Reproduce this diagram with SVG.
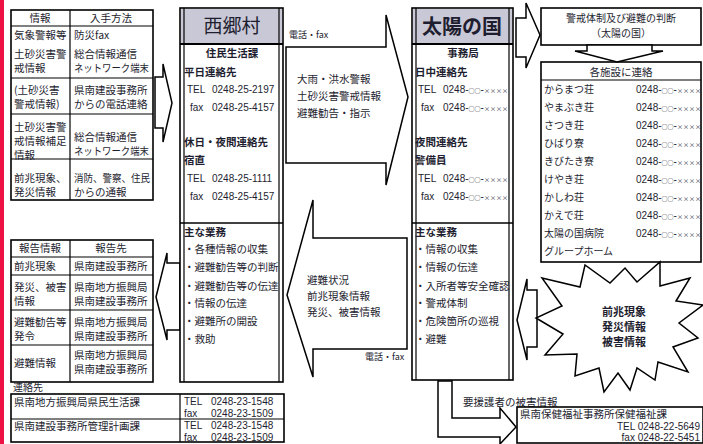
<svg xmlns="http://www.w3.org/2000/svg" width="703" height="444" viewBox="0 0 703 444">
<style>
.jp{font-family:"Noto Sans CJK JP","Noto Sans CJK SC",sans-serif;font-size:10.5px;fill:#1e1e30}
.num{font-family:"Liberation Sans",Arial,sans-serif;font-size:10px;fill:#1e1e30}
.sm{font-family:"Noto Sans CJK JP",sans-serif;font-size:6px}
.b{font-weight:700}
.m{text-anchor:middle}
.e{text-anchor:end}
.box{fill:#fff;stroke:#000;stroke-width:1.6}
.ln{stroke:#000;stroke-width:1.2;fill:none}
.arrow{fill:#fff;stroke:#000;stroke-width:1.5;stroke-linejoin:miter}
.hdr{fill:#c9c8d6}
</style>
<rect x="0" y="0" width="703" height="444" fill="#fff"/>
<rect x="0" y="0" width="4" height="444" fill="#ee1144"/>

<g id="connectors">
  <polygon class="arrow" points="155,77 163,77 163,64 172,103 163,142 163,128 155,128"/>
  <polygon class="arrow" points="180,263 167,263 167,253 156,297 167,340 167,330 180,330"/>
  <polygon class="arrow" points="286,47 386,47 386,15 408,97 386,185 386,163 286,163"/>
  <polygon class="arrow" points="407,238 313,238 313,200 287,295 313,377 313,349 407,349"/>
  <polygon class="arrow" points="516,18 526,18 526,3 540,35 526,68 526,57 516,57"/>
  <polygon class="arrow" points="537,290 527,290 527,279 517,320 527,360 527,347 537,347"/>
  <polygon class="arrow" points="438,381 438,437 500,437 500,444 516,427 500,408 500,418 452,418 452,381"/>
  <text class="jp" x="289" y="38" style="font-size:9px">電話・fax</text>
  <text class="jp" x="365" y="360" style="font-size:9px">電話・fax</text>
  <text class="jp" x="297" y="83">大雨・洪水警報</text>
  <text class="jp" x="297" y="100">土砂災害警戒情報</text>
  <text class="jp" x="297" y="117">避難勧告・指示</text>
  <text class="jp" x="307" y="284">避難状況</text>
  <text class="jp" x="307" y="300">前兆現象情報</text>
  <text class="jp" x="307" y="316">発災、被害情報</text>
  <text class="jp" x="463" y="406">要援護者の被害情報</text>
</g>

<g id="table-input">
  <rect class="box" x="11" y="10" width="142" height="190"/>
  <line class="ln" x1="70" y1="10" x2="70" y2="200"/>
  <line class="ln" x1="11" y1="26" x2="153" y2="26"/>
  <line class="ln" x1="11" y1="78" x2="153" y2="78"/>
  <line class="ln" x1="11" y1="114" x2="153" y2="114"/>
  <line class="ln" x1="11" y1="159" x2="153" y2="159"/>
  <text class="jp m" x="40" y="22">情報</text>
  <text class="jp m" x="111" y="22">入手方法</text>
  <text class="jp" x="14" y="39">気象警報等</text>
  <text class="jp" x="74" y="39">防災fax</text>
  <text class="jp" x="14" y="58">土砂災害警</text>
  <text class="jp" x="14" y="72">戒情報</text>
  <text class="jp" x="74" y="58">総合情報通信</text>
  <text class="jp" x="74" y="72" textLength="75" lengthAdjust="spacingAndGlyphs">ネットワーク端末</text>
  <text class="jp" x="14" y="94">(土砂災害</text>
  <text class="jp" x="14" y="108">警戒情報)</text>
  <text class="jp" x="74" y="94">県南建設事務所</text>
  <text class="jp" x="74" y="108">からの電話連絡</text>
  <text class="jp" x="14" y="131">土砂災害警</text>
  <text class="jp" x="14" y="145">戒情報補足</text>
  <text class="jp" x="14" y="159">情報</text>
  <text class="jp" x="74" y="141">総合情報通信</text>
  <text class="jp" x="74" y="155" textLength="75" lengthAdjust="spacingAndGlyphs">ネットワーク端末</text>
  <text class="jp" x="14" y="182">前兆現象、</text>
  <text class="jp" x="14" y="196">発災情報</text>
  <text class="jp" x="74" y="182" textLength="76" lengthAdjust="spacingAndGlyphs">消防、警察、住民</text>
  <text class="jp" x="74" y="196">からの通報</text>
</g>

<g id="table-report">
  <rect class="box" x="11" y="240" width="142" height="142"/>
  <line class="ln" x1="70" y1="240" x2="70" y2="382"/>
  <line class="ln" x1="11" y1="257" x2="153" y2="257"/>
  <line class="ln" x1="11" y1="275" x2="153" y2="275"/>
  <line class="ln" x1="11" y1="310" x2="153" y2="310"/>
  <line class="ln" x1="11" y1="345" x2="153" y2="345"/>
  <text class="jp m" x="40" y="252">報告情報</text>
  <text class="jp m" x="111" y="252">報告先</text>
  <text class="jp" x="14" y="270">前兆現象</text>
  <text class="jp" x="74" y="270">県南建設事務所</text>
  <text class="jp" x="14" y="291">発災、被害</text>
  <text class="jp" x="14" y="305">情報</text>
  <text class="jp" x="74" y="291">県南地方振興局</text>
  <text class="jp" x="74" y="305">県南建設事務所</text>
  <text class="jp" x="14" y="326">避難勧告等</text>
  <text class="jp" x="14" y="340">発令</text>
  <text class="jp" x="74" y="326">県南地方振興局</text>
  <text class="jp" x="74" y="340">県南建設事務所</text>
  <text class="jp" x="14" y="367">避難情報</text>
  <text class="jp" x="74" y="359">県南地方振興局</text>
  <text class="jp" x="74" y="373">県南建設事務所</text>
</g>

<g id="contacts">
  <text class="jp" x="13" y="391" style="font-size:10px">連絡先</text>
  <rect class="box" x="11" y="394" width="273" height="48"/>
  <line class="ln" x1="11" y1="419" x2="284" y2="419"/>
  <line class="ln" x1="180" y1="394" x2="180" y2="442"/>
  <text class="jp" x="14" y="406">県南地方振興局県民生活課</text>
  <text class="num" x="184" y="404.5">TEL</text>
  <text class="num" x="211" y="404.5">0248-23-1548</text>
  <text class="num" x="184" y="416.5">fax</text>
  <text class="num" x="211" y="416.5">0248-23-1509</text>
  <text class="jp" x="14" y="430">県南建設事務所管理計画課</text>
  <text class="num" x="184" y="429">TEL</text>
  <text class="num" x="211" y="429">0248-23-1548</text>
  <text class="num" x="184" y="440.5">fax</text>
  <text class="num" x="211" y="440.5">0248-23-1509</text>
</g>

<g id="nishigo">
  <rect class="box" x="180" y="8" width="103" height="374"/>
  <rect class="hdr" x="181" y="9" width="101" height="35"/>
  <line class="ln" x1="184" y1="8" x2="184" y2="382"/>
  <line class="ln" x1="279" y1="8" x2="279" y2="382"/>
  <line class="ln" x1="180" y1="44" x2="283" y2="44" style="stroke-width:2"/>
  <line class="ln" x1="180" y1="223" x2="283" y2="223" style="stroke-width:1.6"/>
  <text class="jp m" x="232" y="33" style="font-size:19px">西郷村</text>
  <text class="jp b m" x="232" y="57">住民生活課</text>
  <text class="jp b" x="184" y="76">平日連絡先</text>
  <text class="num" x="187" y="93">TEL</text>
  <text class="num" x="212" y="93">0248-25-2197</text>
  <text class="num" x="190" y="111">fax</text>
  <text class="num" x="212" y="111">0248-25-4157</text>
  <text class="jp b" x="184" y="146">休日・夜間連絡先</text>
  <text class="jp b" x="184" y="164">宿直</text>
  <text class="num" x="187" y="182">TEL</text>
  <text class="num" x="212" y="182">0248-25-1111</text>
  <text class="num" x="190" y="200">fax</text>
  <text class="num" x="212" y="200">0248-25-4157</text>
  <text class="jp b" x="184" y="236">主な業務</text>
  <text class="jp" x="184" y="253">・各種情報の収集</text>
  <text class="jp" x="184" y="271">・避難勧告等の判断</text>
  <text class="jp" x="184" y="290">・避難勧告等の伝達</text>
  <text class="jp" x="184" y="307">・情報の伝達</text>
  <text class="jp" x="184" y="325">・避難所の開設</text>
  <text class="jp" x="184" y="343">・救助</text>
</g>

<g id="taiyo">
  <rect class="box" x="412" y="8" width="101" height="372"/>
  <rect class="hdr" x="413" y="9" width="99" height="35"/>
  <line class="ln" x1="416" y1="8" x2="416" y2="380"/>
  <line class="ln" x1="509" y1="8" x2="509" y2="380"/>
  <line class="ln" x1="412" y1="44" x2="513" y2="44" style="stroke-width:2"/>
  <line class="ln" x1="412" y1="223" x2="513" y2="223" style="stroke-width:1.6"/>
  <text class="jp b m" x="462" y="34" style="font-size:20px">太陽の国</text>
  <text class="jp b m" x="463" y="57">事務局</text>
  <text class="jp b" x="415" y="76">日中連絡先</text>
  <text class="num" x="418" y="93">TEL</text>
  <text class="num" x="443" y="93">0248-<tspan class="sm">○○</tspan>-<tspan class="sm">××××</tspan></text>
  <text class="num" x="421" y="111">fax</text>
  <text class="num" x="443" y="111">0248-<tspan class="sm">○○</tspan>-<tspan class="sm">××××</tspan></text>
  <text class="jp b" x="415" y="146">夜間連絡先</text>
  <text class="jp b" x="415" y="164">警備員</text>
  <text class="num" x="418" y="182">TEL</text>
  <text class="num" x="443" y="182">0248-<tspan class="sm">○○</tspan>-<tspan class="sm">××××</tspan></text>
  <text class="num" x="421" y="200">fax</text>
  <text class="num" x="443" y="200">0248-<tspan class="sm">○○</tspan>-<tspan class="sm">××××</tspan></text>
  <text class="jp b" x="415" y="236">主な業務</text>
  <text class="jp" x="415" y="253">・情報の収集</text>
  <text class="jp" x="415" y="271">・情報の伝達</text>
  <text class="jp" x="415" y="290">・入所者等安全確認</text>
  <text class="jp" x="415" y="307">・警戒体制</text>
  <text class="jp" x="415" y="325">・危険箇所の巡視</text>
  <text class="jp" x="415" y="343">・避難</text>
</g>

<g id="judgment">
  <rect class="box" x="541" y="8" width="160" height="37"/>
  <text class="jp m" x="621" y="22" style="font-size:10px">警戒体制及び避難の判断</text>
  <text class="jp m" x="621" y="37" style="font-size:10px">（太陽の国）</text>
</g>

<g id="facilities">
  <rect class="box" x="541" y="62" width="160" height="200"/>
  <line class="ln" x1="541" y1="80" x2="701" y2="80"/>
  <text class="jp m" x="621" y="76">各施設に連絡</text>
  <g class="jp" style="font-size:10px">
    <text x="544" y="93">からまつ荘</text>
    <text x="544" y="111">やまぶき荘</text>
    <text x="544" y="129">さつき荘</text>
    <text x="544" y="147">ひばり寮</text>
    <text x="544" y="165">きびたき寮</text>
    <text x="544" y="183">けやき荘</text>
    <text x="544" y="201">かしわ荘</text>
    <text x="544" y="219">かえで荘</text>
    <text x="544" y="237">太陽の国病院</text>
    <text x="544" y="255">グループホーム</text>
  </g>
  <g class="num">
    <text x="636" y="93">0248-<tspan class="sm">○○</tspan>-<tspan class="sm">××××</tspan></text>
    <text x="636" y="111">0248-<tspan class="sm">○○</tspan>-<tspan class="sm">××××</tspan></text>
    <text x="636" y="129">0248-<tspan class="sm">○○</tspan>-<tspan class="sm">××××</tspan></text>
    <text x="636" y="147">0248-<tspan class="sm">○○</tspan>-<tspan class="sm">××××</tspan></text>
    <text x="636" y="165">0248-<tspan class="sm">○○</tspan>-<tspan class="sm">××××</tspan></text>
    <text x="636" y="183">0248-<tspan class="sm">○○</tspan>-<tspan class="sm">××××</tspan></text>
    <text x="636" y="201">0248-<tspan class="sm">○○</tspan>-<tspan class="sm">××××</tspan></text>
    <text x="636" y="219">0248-<tspan class="sm">○○</tspan>-<tspan class="sm">××××</tspan></text>
    <text x="636" y="237">0248-<tspan class="sm">○○</tspan>-<tspan class="sm">××××</tspan></text>
  </g>
</g>

<g id="down-arrow">
  <polygon class="arrow" points="587,45 587,51 575,51 617,62 663,51 652,51 652,45"/>
</g>

<g id="burst">
  <polygon class="arrow" points="542,278 580,287 585,265 610,283 625,268 637,282 660,262 660,286 690,278 676,301 703,305 679,323 698,338 673,347 688,372 658,362 655,380 637,368 630,390 618,373 604,392 599,368 575,376 577,354 545,355 563,334 536,318 562,306"/>
  <text class="jp b m" x="624" y="316" style="font-size:11px">前兆現象</text>
  <text class="jp b m" x="624" y="331" style="font-size:11px">発災情報</text>
  <text class="jp b m" x="624" y="346" style="font-size:11px">被害情報</text>
</g>

<g id="health">
  <rect class="box" x="517" y="407" width="186" height="36"/>
  <text class="jp" x="520" y="418">県南保健福祉事務所保健福祉課</text>
  <text class="num e" x="700" y="430">TEL 0248-22-5649</text>
  <text class="num e" x="700" y="441">fax 0248-22-5451</text>
</g>
</svg>
